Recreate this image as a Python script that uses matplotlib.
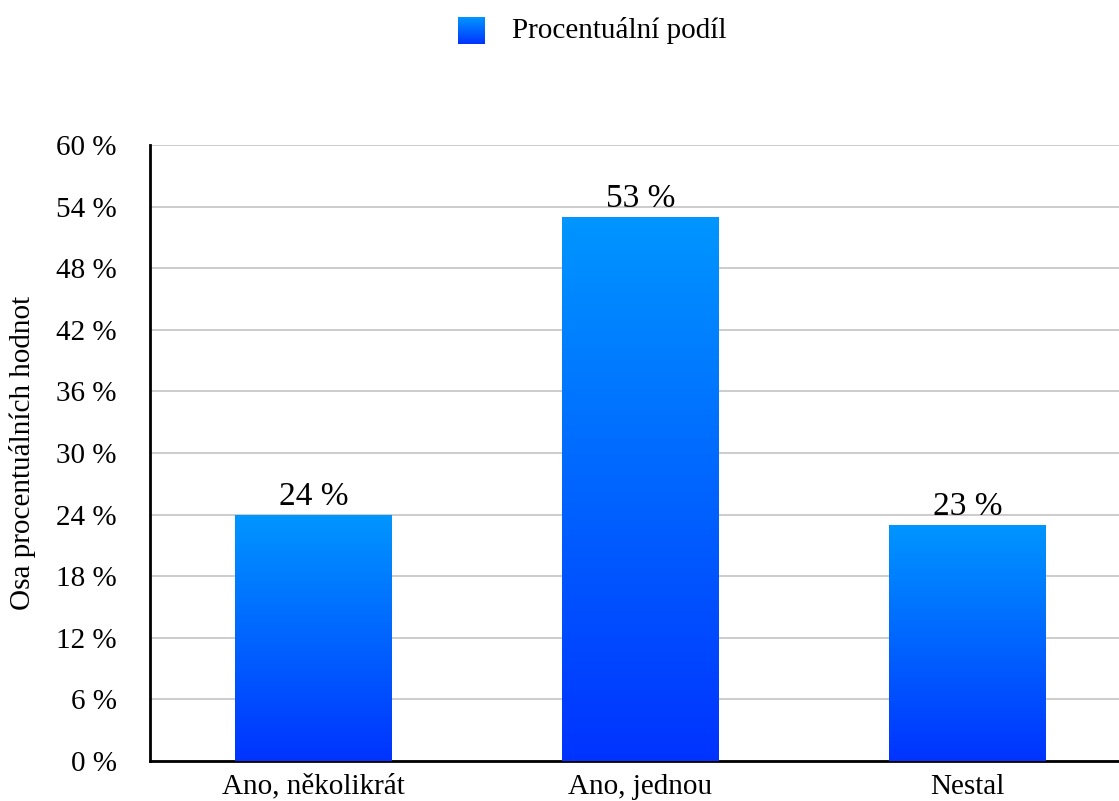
import numpy as np
import matplotlib
matplotlib.use("Agg")
import matplotlib.pyplot as plt
from matplotlib.colors import LinearSegmentedColormap

categories = ["Ano, několikrát", "Ano, jednou", "Nestal"]
values = [24, 53, 23]
yticks = [0, 6, 12, 18, 24, 30, 36, 42, 48, 54, 60]
series_name = "Procentuální podíl"
ylabel = "Osa procentuálních hodnot"

plt.rcParams["font.family"] = ["Liberation Serif", "DejaVu Serif"]

# light blue at the top of each bar, deep blue at the bottom
cmap = LinearSegmentedColormap.from_list("bar", ["#0033ff", "#0096ff"])
grad = np.linspace(0, 1, 256).reshape(-1, 1)

fig = plt.figure(figsize=(11.19, 8.01), dpi=100)
W, H = 1119, 801
ax = fig.add_axes([150 / W, 1 - 761 / H, 981 / W, 616 / H])

x = np.arange(len(categories))
bw = 0.48
bars = ax.bar(x, values, width=bw, color="none", zorder=3)
for rect, v in zip(bars, values):
    x0 = rect.get_x()
    im = ax.imshow(grad, cmap=cmap, origin="lower", aspect="auto",
                   extent=[x0, x0 + rect.get_width(), 0, v], zorder=3)
    im.set_clip_path(rect)
    ax.annotate(f"{v} %", (rect.get_x() + rect.get_width() / 2, v),
                xytext=(0, 2), textcoords="offset points",
                ha="center", va="bottom", fontsize=24, zorder=4)

ax.set_xlim(-0.5, len(categories) - 0.5)
ax.set_ylim(0, 60)
ax.set_yticks(yticks)
ax.set_yticklabels([f"{t} %" for t in yticks], fontsize=21)
ax.set_xticks(x)
ax.set_xticklabels(categories, fontsize=21)
ax.tick_params(axis="both", length=0)
ax.tick_params(axis="y", pad=24)
ax.tick_params(axis="x", pad=9)
ax.yaxis.grid(True, color="#c4c4c4", linewidth=1.2, zorder=0)
ax.set_axisbelow(True)
for s in ["top", "right"]:
    ax.spines[s].set_visible(False)
for s in ["left", "bottom"]:
    ax.spines[s].set_linewidth(2)
    ax.spines[s].set_color("black")
ax.set_ylabel(ylabel, fontsize=21, labelpad=14)

# legend: gradient square + label
lax = fig.add_axes([458 / W, 1 - 44 / H, 27 / W, 27 / H])
lax.imshow(grad, cmap=cmap, origin="lower", aspect="auto")
lax.axis("off")
fig.text(512 / W, 1 - 31 / H, series_name, fontsize=21, va="center", ha="left")

fig.savefig("out.png", dpi=100)
